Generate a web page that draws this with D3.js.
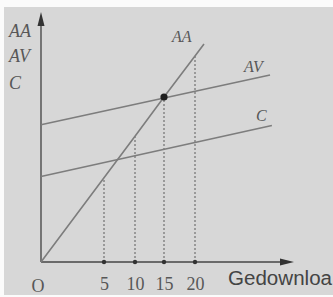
<!DOCTYPE html>
<html><head><meta charset="utf-8">
<script src="https://cdn.jsdelivr.net/npm/d3@7"></script>
<style>html,body{margin:0;padding:0;background:#fff;}svg{display:block;}</style>
</head><body>
<script>
// ---- data ----
const xTicks = [5, 10, 15, 20];
const xTickLabels = ["5", "10", "15", "20"];
const yAxisLabels = ["AA", "AV", "C"];
const aaLine = [[0, 0], [5, 33.7], [10, 50.3], [15, 66], [20, 82.4], [21.45, 87.2]];
const avLine = [[0, 54.9], [32.1, 74.8]];
const cLine  = [[0, 34.2], [32.4, 54.6]];
const dropValues = [33.7, 50.3, 66, 82.4];   // AA value at each tick
const eqPoint = [15, 66];

const W = 333, H = 297;
const svg = d3.select("body").append("svg").attr("width", W).attr("height", H);
svg.append("rect").attr("width", W).attr("height", H).attr("fill", "#fbfbfb");
svg.append("rect").attr("x", 4).attr("y", 7).attr("width", W - 4).attr("height", H - 9).attr("fill", "#d7d7d7");

const x = d3.scaleLinear().domain([0, 5, 10, 15, 20]).range([41, 104, 135, 164, 195]);
const y = d3.scaleLinear().domain([0, 100]).range([262, 12]);
const x0 = x(0), y0 = y(0);

const lineCol = "#7d7d7d", axisCol = "#6a6a6a", txtCol = "#575757";
const line = d3.line().x(d => x(d[0])).y(d => y(d[1]));

// dotted drop lines
svg.selectAll(".drop").data(xTicks).enter().append("line")
  .attr("x1", d => x(d)).attr("x2", d => x(d))
  .attr("y1", y0).attr("y2", (d, i) => y(dropValues[i]))
  .attr("stroke", "#8a8a8a").attr("stroke-width", 1.6).attr("stroke-dasharray", "2,2");

// axes
const xAxis = d3.axisBottom(x).tickValues(xTicks).tickSize(0).tickFormat((d, i) => xTickLabels[i]);
const gx = svg.append("g").attr("transform", `translate(0,${y0})`).call(xAxis);
gx.select(".domain").remove();
gx.selectAll("text").attr("dy", "1.39em").attr("font-family", "Liberation Serif, serif")
  .attr("font-size", 18).attr("fill", txtCol);

svg.append("line").attr("x1", x0).attr("x2", 283).attr("y1", y0).attr("y2", y0)
  .attr("stroke", axisCol).attr("stroke-width", 1.8);
svg.append("line").attr("x1", x0).attr("x2", x0).attr("y1", y0).attr("y2", 22)
  .attr("stroke", axisCol).attr("stroke-width", 1.8);
svg.append("path").attr("d", `M${x0},12 L${x0 - 3.5},26 L${x0 + 3.5},26 Z`).attr("fill", "#333");
svg.append("path").attr("d", `M294,${y0} L280,${y0 - 3.5} L280,${y0 + 3.5} Z`).attr("fill", "#333");

// tick dots
svg.selectAll(".tdot").data(xTicks).enter().append("circle")
  .attr("cx", d => x(d)).attr("cy", y0).attr("r", 2.2).attr("fill", "#333");

// lines
[aaLine, avLine, cLine].forEach(dat => {
  svg.append("path").datum(dat).attr("d", line).attr("fill", "none")
    .attr("stroke", lineCol).attr("stroke-width", 1.6);
});

// equilibrium point
svg.append("circle").attr("cx", x(eqPoint[0])).attr("cy", y(eqPoint[1])).attr("r", 3.6).attr("fill", "#1e1e1e");

// labels
const serifItalic = (sel) => sel.attr("font-family", "Liberation Serif, serif").attr("font-style", "italic")
  .attr("font-size", 18).attr("fill", txtCol);
svg.selectAll(".ylab").data(yAxisLabels).enter().append("text")
  .attr("x", 9).attr("y", (d, i) => [37, 62, 89][i]).text(d => d).call(serifItalic);
svg.append("text").attr("x", 172).attr("y", 42).text("AA").call(serifItalic).attr("font-size", 16);
svg.append("text").attr("x", 244).attr("y", 72).text("AV").call(serifItalic).attr("font-size", 16);
svg.append("text").attr("x", 256).attr("y", 121).text("C").call(serifItalic).attr("font-size", 16);
svg.append("text").attr("x", 38).attr("y", 292).attr("text-anchor", "middle").text("O")
  .attr("font-family", "Liberation Serif, serif").attr("font-size", 18).attr("fill", txtCol);

svg.append("text").attr("x", 228).attr("y", 285).text("Gedownloa")
  .attr("font-family", "Liberation Sans, Arial, sans-serif").attr("font-size", 20)
  .attr("textLength", 104).attr("lengthAdjust", "spacingAndGlyphs").attr("fill", "#444");
</script>
</body></html>
